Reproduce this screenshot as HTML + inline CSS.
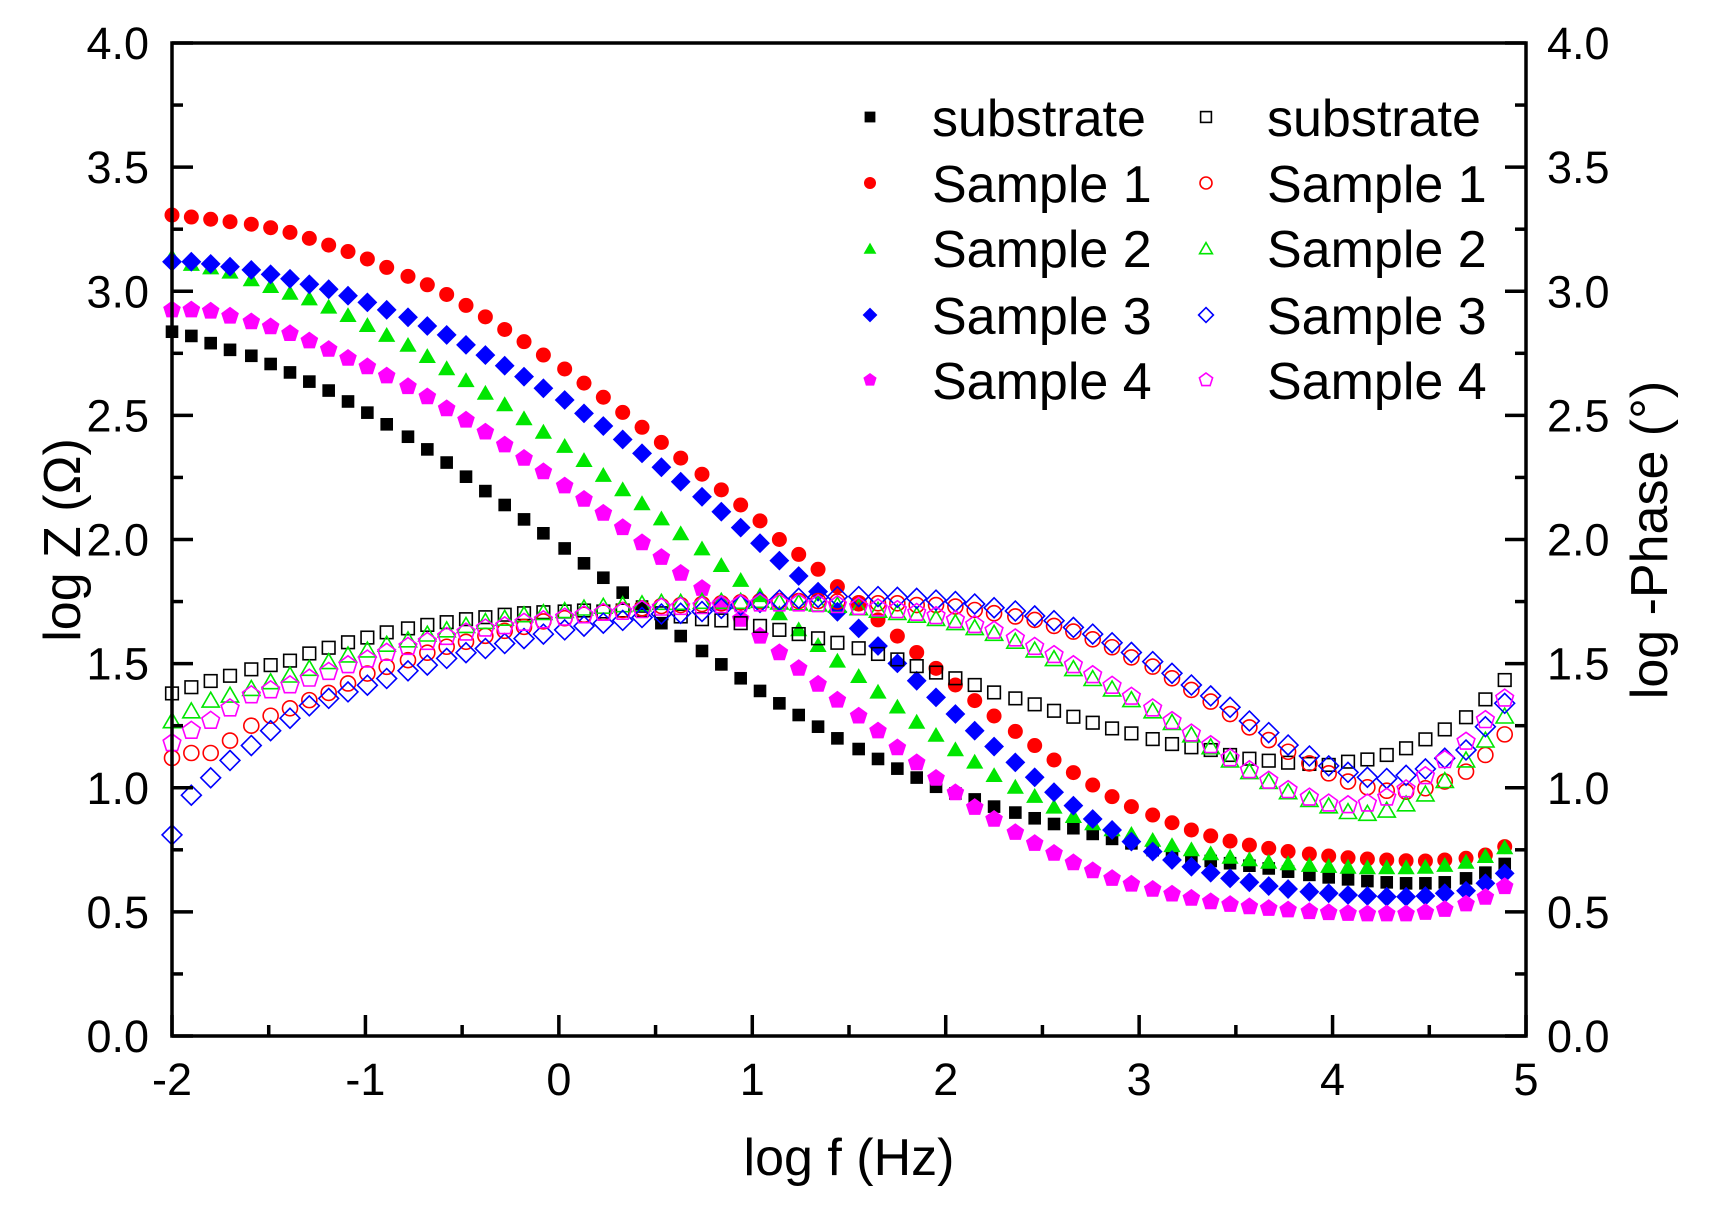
<!DOCTYPE html>
<html><head><meta charset="utf-8"><style>
html,body{margin:0;padding:0;background:#fff;}
svg{display:block;font-family:"Liberation Sans",Arial,sans-serif;}
</style></head><body>
<svg id="chart" width="1714" height="1223" viewBox="0 0 1714 1223" xmlns="http://www.w3.org/2000/svg">
<rect width="1714" height="1223" fill="#fff"/>
<g id="marks"></g>
<g id="axes"></g>
<g id="legend"></g>
</svg>
<script>
const logF=[-2.00,-1.90,-1.80,-1.70,-1.59,-1.49,-1.39,-1.29,-1.19,-1.09,-0.99,-0.89,-0.78,-0.68,-0.58,-0.48,-0.38,-0.28,-0.18,-0.08,0.03,0.13,0.23,0.33,0.43,0.53,0.63,0.74,0.84,0.94,1.04,1.14,1.24,1.34,1.44,1.55,1.65,1.75,1.85,1.95,2.05,2.15,2.25,2.36,2.46,2.56,2.66,2.76,2.86,2.96,3.07,3.17,3.27,3.37,3.47,3.57,3.67,3.77,3.88,3.98,4.08,4.18,4.28,4.38,4.48,4.58,4.69,4.79,4.89];
const zSubstrate=[2.837,2.82,2.791,2.764,2.74,2.707,2.673,2.636,2.6,2.556,2.511,2.464,2.414,2.363,2.31,2.253,2.195,2.139,2.081,2.025,1.964,1.904,1.846,1.786,1.73,1.663,1.611,1.551,1.497,1.441,1.39,1.34,1.293,1.246,1.199,1.156,1.116,1.077,1.041,1.004,0.977,0.953,0.924,0.9,0.877,0.854,0.837,0.814,0.794,0.776,0.749,0.729,0.716,0.705,0.696,0.686,0.675,0.662,0.649,0.639,0.631,0.624,0.619,0.615,0.615,0.619,0.635,0.658,0.693];
const zSample1=[3.307,3.299,3.29,3.28,3.27,3.256,3.237,3.213,3.186,3.16,3.13,3.096,3.06,3.026,2.987,2.943,2.897,2.846,2.797,2.743,2.687,2.63,2.573,2.512,2.452,2.391,2.328,2.263,2.2,2.139,2.075,2.0,1.94,1.88,1.81,1.745,1.676,1.611,1.545,1.481,1.414,1.351,1.289,1.227,1.17,1.112,1.061,1.011,0.964,0.924,0.89,0.859,0.83,0.806,0.785,0.769,0.756,0.743,0.733,0.725,0.718,0.713,0.709,0.706,0.705,0.709,0.716,0.729,0.763];
const zSample2=[3.14,3.11,3.096,3.079,3.048,3.021,2.994,2.971,2.938,2.904,2.864,2.824,2.784,2.739,2.69,2.642,2.591,2.545,2.488,2.434,2.377,2.32,2.26,2.202,2.146,2.085,2.025,1.964,1.897,1.837,1.776,1.703,1.638,1.575,1.512,1.45,1.387,1.327,1.266,1.213,1.155,1.105,1.051,1.004,0.967,0.924,0.886,0.857,0.833,0.814,0.79,0.769,0.752,0.736,0.722,0.712,0.702,0.696,0.689,0.685,0.682,0.68,0.68,0.68,0.682,0.689,0.702,0.725,0.76];
const zSample3=[3.119,3.119,3.11,3.099,3.086,3.068,3.05,3.028,3.008,2.982,2.955,2.925,2.895,2.86,2.824,2.784,2.743,2.70,2.656,2.609,2.562,2.508,2.457,2.403,2.347,2.291,2.233,2.172,2.112,2.048,1.985,1.915,1.853,1.79,1.709,1.642,1.571,1.501,1.431,1.364,1.297,1.23,1.166,1.102,1.042,0.982,0.928,0.874,0.83,0.783,0.743,0.709,0.682,0.658,0.635,0.619,0.604,0.592,0.581,0.575,0.568,0.564,0.561,0.561,0.564,0.575,0.585,0.615,0.655];
const zSample4=[2.925,2.925,2.92,2.90,2.877,2.857,2.83,2.80,2.766,2.73,2.696,2.659,2.616,2.575,2.527,2.481,2.433,2.381,2.327,2.273,2.216,2.162,2.106,2.048,1.987,1.928,1.864,1.803,1.743,1.679,1.611,1.544,1.481,1.417,1.353,1.289,1.229,1.161,1.101,1.038,0.98,0.921,0.873,0.82,0.776,0.736,0.698,0.666,0.635,0.612,0.591,0.572,0.555,0.541,0.53,0.521,0.514,0.508,0.501,0.497,0.494,0.492,0.492,0.492,0.498,0.51,0.532,0.559,0.602];
const pSubstrate=[1.38,1.405,1.43,1.451,1.477,1.494,1.512,1.541,1.564,1.586,1.605,1.626,1.642,1.656,1.667,1.679,1.687,1.697,1.703,1.707,1.71,1.714,1.71,1.714,1.716,1.703,1.69,1.679,1.674,1.663,1.652,1.636,1.619,1.602,1.584,1.562,1.539,1.517,1.49,1.464,1.441,1.414,1.384,1.36,1.336,1.31,1.286,1.262,1.239,1.219,1.196,1.176,1.163,1.152,1.132,1.117,1.109,1.101,1.096,1.092,1.105,1.114,1.132,1.159,1.195,1.235,1.284,1.356,1.434];
const pSample1=[1.12,1.14,1.14,1.19,1.25,1.29,1.32,1.353,1.382,1.42,1.46,1.487,1.514,1.544,1.568,1.588,1.612,1.632,1.648,1.67,1.683,1.697,1.706,1.716,1.723,1.732,1.736,1.74,1.743,1.747,1.751,1.752,1.752,1.752,1.75,1.743,1.743,1.743,1.736,1.736,1.73,1.716,1.703,1.69,1.676,1.652,1.629,1.598,1.566,1.525,1.488,1.441,1.394,1.347,1.297,1.243,1.192,1.145,1.098,1.058,1.025,1.002,0.988,0.984,0.998,1.025,1.065,1.132,1.215];
const pSample2=[1.27,1.31,1.353,1.373,1.4,1.427,1.454,1.481,1.508,1.535,1.555,1.578,1.596,1.619,1.636,1.654,1.67,1.683,1.697,1.706,1.714,1.724,1.731,1.737,1.741,1.747,1.747,1.751,1.751,1.751,1.755,1.748,1.745,1.74,1.735,1.725,1.715,1.706,1.695,1.682,1.665,1.645,1.622,1.59,1.555,1.52,1.48,1.44,1.398,1.355,1.31,1.263,1.213,1.165,1.112,1.065,1.025,0.984,0.953,0.927,0.904,0.897,0.91,0.935,0.975,1.029,1.112,1.192,1.289];
const pSample3=[0.81,0.97,1.04,1.11,1.17,1.23,1.28,1.33,1.36,1.386,1.413,1.44,1.471,1.494,1.521,1.544,1.561,1.581,1.601,1.619,1.636,1.651,1.663,1.674,1.686,1.7,1.703,1.71,1.723,1.736,1.747,1.756,1.763,1.767,1.77,1.77,1.77,1.767,1.763,1.756,1.75,1.74,1.725,1.712,1.692,1.673,1.646,1.619,1.584,1.545,1.508,1.461,1.414,1.37,1.324,1.269,1.222,1.172,1.128,1.088,1.062,1.042,1.037,1.05,1.076,1.119,1.152,1.246,1.34];
const pSample4=[1.18,1.23,1.27,1.32,1.373,1.393,1.413,1.44,1.467,1.494,1.517,1.544,1.568,1.588,1.608,1.626,1.642,1.651,1.665,1.675,1.686,1.695,1.705,1.709,1.716,1.726,1.729,1.732,1.736,1.74,1.743,1.743,1.743,1.74,1.736,1.729,1.723,1.716,1.705,1.692,1.676,1.656,1.633,1.602,1.568,1.535,1.494,1.454,1.411,1.367,1.32,1.269,1.219,1.172,1.119,1.071,1.029,0.991,0.961,0.937,0.93,0.937,0.961,0.994,1.047,1.112,1.186,1.273,1.36];
const xTicks=[-2,-1,0,1,2,3,4,5];
const yTicks=["0.0","0.5","1.0","1.5","2.0","2.5","3.0","3.5","4.0"];
const legendLabels=["substrate","Sample 1","Sample 2","Sample 3","Sample 4"];

const NS="http://www.w3.org/2000/svg";
const X0=172,X1=1526,Y0=1036,Y1=43;
function sx(v){return X0+(v+2)/7*(X1-X0);}
function sy(v){return Y0-v/4*(Y0-Y1);}
function mk(tag,attrs,parent){const e=document.createElementNS(NS,tag);for(const k in attrs)e.setAttribute(k,attrs[k]);parent.appendChild(e);return e;}
const colors=["#000000","#ff0000","#00e600","#0000ff","#ff00ff"];
const shapes=["square","circle","triangle","diamond","pentagon"];
function marker(shape,cx,cy,s,color,filled,parent){
  const st=filled?{fill:color,stroke:"none"}:{fill:"none",stroke:color,"stroke-width":1.6};
  let e;
  if(shape==="square"){e=mk("rect",Object.assign({x:cx-s*0.45,y:cy-s*0.45,width:s*0.9,height:s*0.9},st),parent);}
  else if(shape==="circle"){e=mk("circle",Object.assign({cx:cx,cy:cy,r:s*0.5},st),parent);}
  else{
    let pts=[];
    if(shape==="triangle"){const r=s*0.62;for(let k=0;k<3;k++){const a=-Math.PI/2+k*2*Math.PI/3;pts.push([cx+r*Math.cos(a),cy+2+r*Math.sin(a)]);}}
    else if(shape==="diamond"){const r=s*0.62;pts=[[cx,cy-r],[cx+r,cy],[cx,cy+r],[cx-r,cy]];}
    else{const r=s*0.58;for(let k=0;k<5;k++){const a=-Math.PI/2+k*2*Math.PI/5;pts.push([cx+r*Math.cos(a),cy+r*Math.sin(a)]);}}
    e=mk("polygon",Object.assign({points:pts.map(p=>p[0].toFixed(1)+","+p[1].toFixed(1)).join(" ")},st),parent);
  }
  return e;
}
const marks=document.getElementById("marks");
const zSeries=[zSubstrate,zSample1,zSample2,zSample3,zSample4];
const pSeries=[pSubstrate,pSample1,pSample2,pSample3,pSample4];
const sizes=[14,15,16,16,16];
zSeries.forEach((arr,si)=>{
  const g=mk("g",{},marks);
  
  
  arr.forEach((v,i)=>{const m=marker(shapes[si],sx(logF[i]),sy(v),sizes[si],colors[si],true,g);
    
    });
});
pSeries.forEach((arr,si)=>{
  const g=mk("g",{},marks);
  
  
  arr.forEach((v,i)=>{const m=marker(shapes[si],sx(logF[i]),sy(v),sizes[si],colors[si],false,g);
    
    });
});
const axes=document.getElementById("axes");
const frame=mk("path",{d:`M${X0},${Y1} L${X1},${Y1} L${X1},${Y0} L${X0},${Y0} Z`,fill:"none",stroke:"#000","stroke-width":3.5},axes);


xTicks.forEach((t,i)=>{
  const x=sx(t);
  mk("line",{x1:x,y1:Y0,x2:x,y2:Y0-21,stroke:"#000","stroke-width":3.5},axes);
  if(i<xTicks.length-1){const xm=sx(t+0.5);mk("line",{x1:xm,y1:Y0,x2:xm,y2:Y0-11,stroke:"#000","stroke-width":3.5},axes);}
  const tx=mk("text",{x:x,y:1095,"font-size":45,"text-anchor":"middle",fill:"#000"},axes);
  tx.textContent=String(t);
  
  
});
yTicks.forEach((t,i)=>{
  const v=parseFloat(t),y=sy(v);
  mk("line",{x1:X0,y1:y,x2:X0+21,y2:y,stroke:"#000","stroke-width":3.5},axes);
  mk("line",{x1:X1,y1:y,x2:X1-21,y2:y,stroke:"#000","stroke-width":3.5},axes);
  if(i<yTicks.length-1){const ym=sy(v+0.25);
    mk("line",{x1:X0,y1:ym,x2:X0+11,y2:ym,stroke:"#000","stroke-width":3.5},axes);
    mk("line",{x1:X1,y1:ym,x2:X1-11,y2:ym,stroke:"#000","stroke-width":3.5},axes);}
  const l=mk("text",{x:149,y:y+16,"font-size":45,"text-anchor":"end",fill:"#000"},axes);
  l.textContent=t;
  
  
  const r=mk("text",{x:1547,y:y+16,"font-size":45,"text-anchor":"start",fill:"#000"},axes);
  r.textContent=t;
  
  
});
const xt=mk("text",{x:849,y:1175,"font-size":52,"text-anchor":"middle",fill:"#000"},axes);
xt.textContent="log f (Hz)";


const yl=mk("text",{x:0,y:0,"font-size":52,"text-anchor":"middle",fill:"#000",transform:"translate(80,540) rotate(-90)"},axes);
yl.textContent="log Z (Ω)";


const yr=mk("text",{x:0,y:0,"font-size":52,"text-anchor":"middle",fill:"#000",transform:"translate(1667,540) rotate(-90)"},axes);
yr.textContent="log -Phase (°)";


const leg=document.getElementById("legend");
const rowY=[117,183,248,315,380];
legendLabels.forEach((lab,i)=>{
  const g1=mk("g",{},leg);
  
  
  marker(shapes[i],870,rowY[i],12,colors[i],true,g1);
  const t1=mk("text",{x:932,y:rowY[i]+19,"font-size":52,fill:"#000"},g1);
  t1.textContent=lab;
  const g2=mk("g",{},leg);
  
  
  marker(shapes[i],1206,rowY[i],12,colors[i],false,g2);
  const t2=mk("text",{x:1267,y:rowY[i]+19,"font-size":52,fill:"#000"},g2);
  t2.textContent=lab;
});
</script>
</body></html>
